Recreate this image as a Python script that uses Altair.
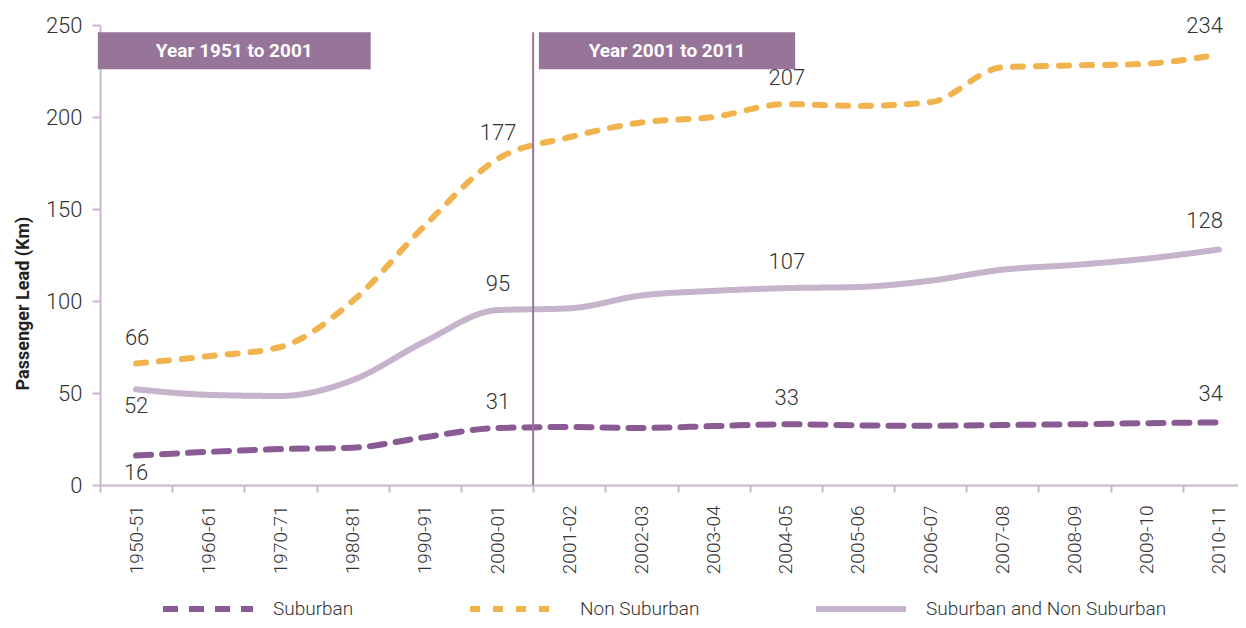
import altair as alt
import pandas as pd

periods = ["1950-51", "1960-61", "1970-71", "1980-81", "1990-91", "2000-01",
           "2001-02", "2002-03", "2003-04", "2004-05", "2005-06", "2006-07",
           "2007-08", "2008-09", "2009-10", "2010-11"]
suburban = [16, 18, 19.5, 20.3, 26, 31, 31.5, 31, 32, 33, 32.4, 32.2, 32.6, 33, 33.6, 34]
non_suburban = [66, 70, 75, 100, 141, 177, 189, 197, 200, 207, 206, 208, 227, 228, 229, 234]
combined = [52, 49, 48.4, 57, 78, 95, 96, 103, 105.5, 107, 107.6, 111, 117, 119.6, 123, 128]
series_names = ["Suburban", "Non Suburban", "Suburban and Non Suburban"]
series_colors = ["#8A5A95", "#F0B34D", "#C6B4CC"]
labelled_idx = [0, 5, 9, 15]
below_labels = [("Suburban", 0), ("Suburban and Non Suburban", 0)]

header_texts = ["Year 1951 to 2001", "Year 2001 to 2011"]
header_start = [-0.03, 6.08]   # in band units
header_end = [3.75, 9.63]
header_bottom = 226
header_top = 246
divider_at = 6.0

FONT = "Roboto"
AXIS_COL = "#C9B5CE"
BOX_COL = "#977599"
STEP_W = 1155 / 16
PLOT_W = 1138
PLOT_H = 460

rows = []
for name, vals in zip(series_names, [suburban, non_suburban, combined]):
    for i, (p, v) in enumerate(zip(periods, vals)):
        pos = None
        if i in labelled_idx:
            if (name, i) in below_labels:
                pos = "below"
            elif i == len(periods) - 1:
                pos = "end"
            else:
                pos = "above"
        rows.append({"period": p, "series": name, "value": v, "pos": pos,
                     "label": f"{v:.0f}"})
df = pd.DataFrame(rows)

xscale = alt.Scale(type="band", domain=periods, range=[0, 1155],
                   paddingInner=0, paddingOuter=0)
yscale = alt.Scale(domain=[0, 250])

x_enc = alt.X("period:N", sort=periods, scale=xscale,
              axis=alt.Axis(title=None, tickBand="extent", labelAngle=270,
                            labelFont=FONT, labelFontSize=19, labelFontWeight=300,
                            labelColor="#333333", labelPadding=13,
                            domainColor=AXIS_COL, domainWidth=2,
                            tickColor=AXIS_COL, tickWidth=2, tickSize=7,
                            labelBaseline="middle", labelAlign="right"))
y_enc = alt.Y("value:Q", scale=yscale,
              axis=alt.Axis(title="Passenger Lead (Km)", values=[0, 50, 100, 150, 200, 250],
                            grid=False, labelFont=FONT, labelFontSize=22,
                            labelFontWeight=300, labelColor="#333333", labelPadding=10,
                            domainColor=AXIS_COL, domainWidth=2,
                            tickColor=AXIS_COL, tickWidth=2, tickSize=8,
                            titleFont=FONT, titleFontSize=18, titleFontWeight="bold",
                            titleColor="#222222", titlePadding=13, titleY=278))

legend = alt.Legend(title=None, orient="none", legendX=60, legendY=536,
                    direction="horizontal", symbolType="stroke", symbolSize=8100,
                    symbolStrokeWidth=6, labelFont=FONT, labelFontSize=19,
                    labelFontWeight=300, labelColor="#333333", labelOffset=17,
                    columnPadding=104, padding=0, labelLimit=500)

lines = alt.Chart(df).mark_line(interpolate="monotone", strokeWidth=6,
                                strokeCap="round").encode(
    x=x_enc,
    y=y_enc,
    color=alt.Color("series:N", scale=alt.Scale(domain=series_names, range=series_colors),
                    legend=legend),
    strokeDash=alt.StrokeDash("series:N",
                              scale=alt.Scale(domain=series_names,
                                              range=[[15, 11], [10, 13], [1, 0]]),
                              legend=legend),
)

def label_layer(pos, **kw):
    return alt.Chart(df).transform_filter(alt.datum.pos == pos).mark_text(
        font=FONT, fontSize=22, fontWeight=300, color="#333333", **kw
    ).encode(
        x=alt.X("period:N", sort=periods, scale=xscale),
        y=alt.Y("value:Q", scale=yscale),
        text="label:N",
    )

labels_above = label_layer("above", dy=-26, dx=1)
labels_below = label_layer("below", dy=17, dx=0)
labels_end = label_layer("end", dy=-28, align="right", dx=4)

main = alt.layer(lines, labels_above, labels_below, labels_end)

boxes_df = pd.DataFrame({"text": header_texts, "x1": header_start, "x2": header_end,
                         "y1": [header_bottom] * 2, "y2": [header_top] * 2})
boxes_df["xm"] = (boxes_df["x1"] + boxes_df["x2"]) / 2
boxes_df["ym"] = (boxes_df["y1"] + boxes_df["y2"]) / 2
div_df = pd.DataFrame({"x": [divider_at], "y1": [0], "y2": [header_top]})

ann_x = alt.Scale(domain=[0, PLOT_W / STEP_W], nice=False, zero=False)

boxes = alt.Chart(boxes_df).mark_rect(color=BOX_COL).encode(
    x=alt.X("x1:Q", scale=ann_x, axis=None), x2="x2:Q",
    y=alt.Y("y1:Q", scale=yscale), y2="y2:Q")
box_text = alt.Chart(boxes_df).mark_text(font=FONT, fontSize=19, fontWeight="bold",
                                         color="white").encode(
    x=alt.X("xm:Q", scale=ann_x, axis=None),
    y=alt.Y("ym:Q", scale=yscale), text="text:N")
divider = alt.Chart(div_df).mark_rule(color=BOX_COL, strokeWidth=2).encode(
    x=alt.X("x:Q", scale=ann_x, axis=None),
    y=alt.Y("y1:Q", scale=yscale), y2="y2:Q")

ann = alt.layer(boxes, box_text, divider)

chart = alt.layer(main, ann).resolve_scale(x="independent").properties(
    width=PLOT_W, height=PLOT_H,
    autosize=alt.AutoSizeParams(type="none"),
    padding={"left": 92, "top": 17, "right": 0, "bottom": 135},
    background="white",
).configure_view(stroke=None)

chart.save("out.html", embed_options={"renderer": "svg", "actions": False})
